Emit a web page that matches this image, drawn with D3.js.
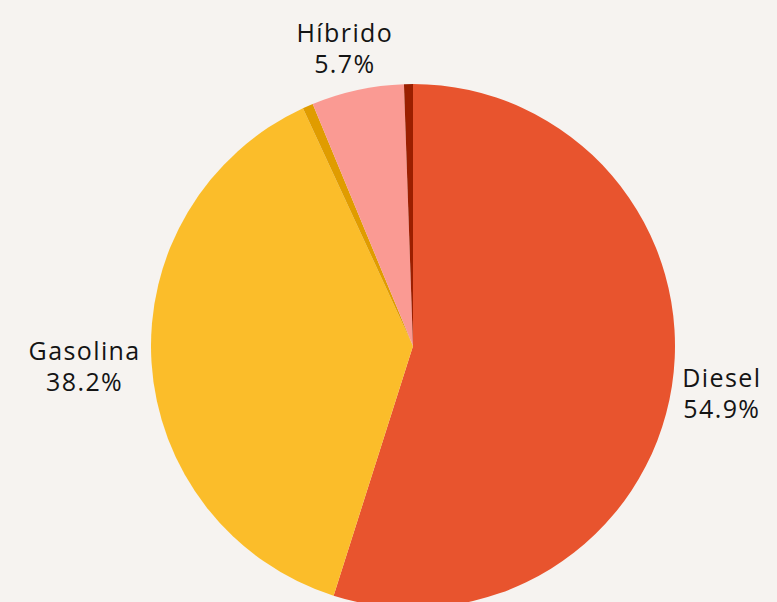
<!DOCTYPE html>
<html>
<head>
<meta charset="utf-8">
<script src="https://cdn.jsdelivr.net/npm/d3@7"></script>
<style>
  body { margin: 0; background: #f6f3f0; }
  svg { display: block; }
  text { font-family: "Open Sans", sans-serif; font-weight: 400; fill: #141414; letter-spacing: 1.4px; }
</style>
</head>
<body>
<div id="chart"></div>
<script>
const width = 777, height = 602;

// slices clockwise from 12 o'clock
const categories = ["Diesel", "Gasolina", "Otro", "Híbrido", "Eléctrico"];
const shares = [54.9, 38.2, 0.65, 5.7, 0.55];
const colors = ["#e8542e", "#fbbd2a", "#e09c00", "#fa9a93", "#9b1f00"];
const labelled = ["Diesel", "Gasolina", "Híbrido"];

const data = categories.map((c, i) => ({cat: c, value: shares[i], color: colors[i]}));

const cx = 413, cy = 346, radius = 262;
const fontSize = 25, lineH = 31;

const svg = d3.select("#chart").append("svg")
    .attr("width", width)
    .attr("height", height);

const pie = d3.pie().sort(null).value(d => d.value);
const arc = d3.arc().innerRadius(0).outerRadius(radius);

const g = svg.append("g")
    .attr("transform", "translate(" + cx + "," + cy + ")");

const arcs = pie(data);

g.selectAll("path")
  .data(arcs)
  .enter().append("path")
    .attr("d", arc)
    .attr("fill", d => d.data.color);

// outside labels: box edge touches a ring a bit past the rim
const labelR = 273;
const lab = g.selectAll("g.lab")
  .data(arcs.filter(d => labelled.includes(d.data.cat)))
  .enter().append("g")
    .attr("class", "lab");

lab.each(function(d) {
  const sel = d3.select(this);
  const t = sel.append("text")
      .attr("text-anchor", "middle")
      .style("font-size", fontSize + "px");
  t.append("tspan").attr("x", 0).attr("y", 0).text(d.data.cat);
  t.append("tspan").attr("x", 0).attr("y", lineH).text(d.data.value.toFixed(1) + "%");

  const bb = t.node().getBBox();
  const a = (d.startAngle + d.endAngle) / 2;
  const px = Math.sin(a) * labelR, py = -Math.cos(a) * labelR;
  const mx = px + Math.sin(a) * bb.width / 2;
  const my = py - Math.cos(a) * bb.height / 2;
  // centre the text box on (mx, my)
  const ox = mx - (bb.x + bb.width / 2);
  const oy = my - (bb.y + bb.height / 2);
  sel.attr("transform", "translate(" + ox + "," + oy + ")");
});
</script>
</body>
</html>
